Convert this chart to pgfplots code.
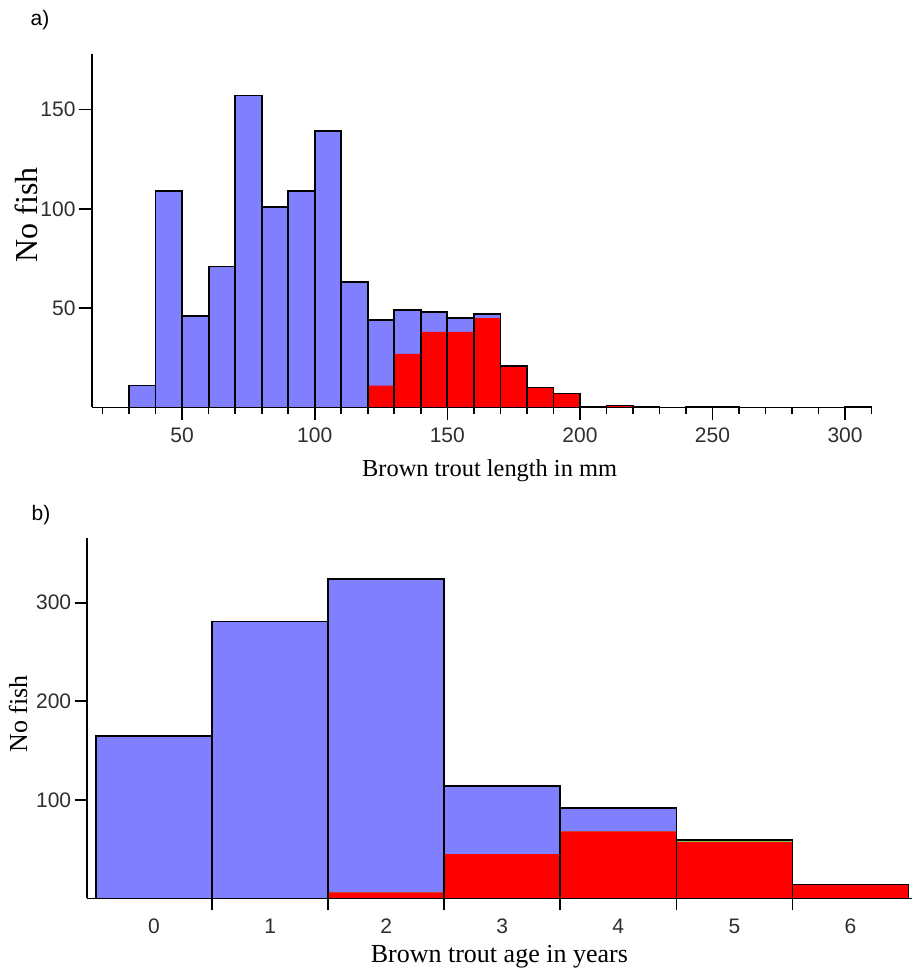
\documentclass[border=0pt]{standalone}
\usepackage{pgfplots}
\usepackage{pgfplotstable}
\pgfplotsset{compat=1.18}
\usepackage{fontspec}
\setmainfont{Liberation Sans}
\newfontfamily\seriffont{Liberation Serif}

\definecolor{barblue}{RGB}{128,128,255}
\definecolor{barred}{RGB}{255,0,0}
\definecolor{bargreen}{RGB}{128,200,64}

% length classes (bin centre, all fish, older fish)
\pgfplotstableread{
x   tot  red
35  11   0
45  109  0
55  46   0
65  71   0
75  157  0
85  101  0
95  109  0
105 139  0
115 63   0
125 44   11
135 49   27
145 48   38
155 45   38
165 47   45
175 21   21
185 10   10
195 7    7
205 0.3  0.3
215 1    1
225 0.3  0.3
245 0.3  0.3
255 0.3  0.3
305 0.3  0.3
}\lengthdata

% age classes (age, all fish, red+green, red)
\pgfplotstableread{
x  tot  rg  red
0  165  0   0
1  281  0   0
2  324  6   6
3  114  45  45
4  92   68  68
5  59   59  57
6  14   14  14
}\agedata

\pgfplotsset{
  histo/.style={
    scale only axis,
    axis lines=left,
    axis line style={-, black, line width=1.6bp},
    every tick/.style={black, line width=1.6bp},
    tick align=outside,
    major tick length=13bp,
    minor tick length=6.5bp,
    clip=false,
    ymin=0,
    /pgf/number format/assume math mode=true,
    tick label style={font=\fontsize{21bp}{25bp}\selectfont, text=black!82},
  },
  outline/.style={ybar, bar shift=0pt, fill=none, draw=black, line width=1.7bp},
}

\begin{document}
\begin{tikzpicture}
\useasboundingbox (0,0) rectangle (912bp,969bp);

% a) length distribution
\begin{axis}[histo,
  at={(92bp,561.5bp)}, anchor=south west,
  width=779.6bp, height=353.7bp,
  xmin=16, xmax=310, ymax=178,
  xtick={50,100,...,300},
  minor xtick={20,30,...,310},
  ytick={50,100,150},
  xticklabel style={yshift=-4bp},
  xlabel={\seriffont\fontsize{24.4bp}{28bp}\selectfont Brown trout length in mm},
  xlabel style={at={(axis description cs:0.51,-0.194)}, anchor=base},
  ylabel={\seriffont\fontsize{32bp}{36bp}\selectfont No fish},
  ylabel style={at={(axis description cs:-0.0847,0.544)}, anchor=center, rotate=0},
]
\addplot[ybar, bar width=10, bar shift=0pt, fill=barblue, draw=none] table[x=x, y=tot] {\lengthdata};
\addplot[ybar, bar width=10, bar shift=0pt, fill=barred, draw=none] table[x=x, y=red] {\lengthdata};
\addplot[outline, bar width=10] table[x=x, y=tot] {\lengthdata};
\node[font=\fontsize{21bp}{24bp}\selectfont] at (axis description cs:-0.0667,1.0956) {a)};
\end{axis}

% b) age distribution
\begin{axis}[histo,
  at={(86.7bp,70.6bp)}, anchor=south west,
  width=825.3bp, height=360.7bp,
  xmin=-0.58, xmax=6.53, ymax=366,
  xtick={0.5,1.5,...,5.5},
  xticklabels={},
  major tick length=12bp,
  extra x ticks={0,1,2,3,4,5,6},
  extra x tick labels={0,1,2,3,4,5,6},
  extra x tick style={major tick length=0pt, xticklabel style={yshift=-17bp}},
  ytick={100,200,300},
  xlabel={\seriffont\fontsize{26bp}{30bp}\selectfont Brown trout age in years},
  xlabel style={at={(axis description cs:0.5,-0.179)}, anchor=base},
  ylabel={\seriffont\fontsize{26bp}{30bp}\selectfont No fish},
  ylabel style={at={(axis description cs:-0.0832,0.511)}, anchor=center, rotate=0},
]
\addplot[ybar, bar width=1, bar shift=0pt, fill=barblue, draw=none] table[x=x, y=tot] {\agedata};
\addplot[ybar, bar width=1, bar shift=0pt, fill=bargreen, draw=none] table[x=x, y=rg] {\agedata};
\addplot[ybar, bar width=1, bar shift=0pt, fill=barred, draw=none] table[x=x, y=red] {\agedata};
\addplot[outline, bar width=1] table[x=x, y=tot] {\agedata};
\node[font=\fontsize{21bp}{24bp}\selectfont] at (axis description cs:-0.0554,1.063) {b)};
\end{axis}
\end{tikzpicture}
\end{document}
